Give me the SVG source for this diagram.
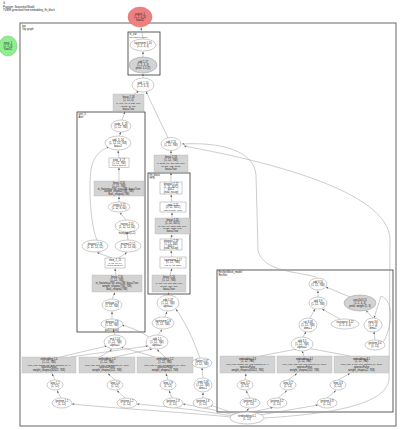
<svg xmlns="http://www.w3.org/2000/svg" width="400" height="430" viewBox="0 0 400 430">
<style>
text{font-family:"Liberation Sans",Arial,sans-serif;font-size:2.6px;fill:#222;text-anchor:middle}
.l{text-anchor:start}
.s{font-size:2.2px}
.cl{fill:none;stroke:#333;stroke-width:0.8}
.co{fill:none;stroke:#666;stroke-width:1}
.e{fill:#fff;stroke:#999;stroke-width:0.5}
.g{fill:#d3d3d3;stroke:#bbb;stroke-width:0.4}
.r{fill:#fff;stroke:#999;stroke-width:0.5}
.ed path{fill:none;stroke:#9a9a9a;stroke-width:0.5;marker-end:url(#a)}
</style>
<defs>
<marker id="a" viewBox="0 0 10 10" refX="10" refY="5" markerWidth="5" markerHeight="5" orient="auto"><path d="M0,1L10,5L0,9z" fill="#666"/></marker>
</defs>
<rect width="400" height="430" fill="#fff"/>
<text class="l" x="3" y="4">G</text>
<text class="l" x="3" y="7.5">Program: Sequential Model</text>
<text class="l" x="3" y="10.5">TVMIR generated from embedding_ffn_block</text>

<!-- clusters -->
<g id="cluster_top"><rect class="co" x="20" y="23" width="376" height="403"/><text class="l" x="22" y="26.5">top</text><text class="l" x="22" y="29.5">Top graph</text></g>
<g id="cluster_ln"><rect class="cl" x="128" y="32" width="32" height="43"/><text class="l" x="129.5" y="35">ln_out</text><text class="l s" x="129.5" y="37.5">LayerNorm output</text></g>
<g id="cluster_attn"><rect class="cl" x="77" y="112" width="68" height="220"/><text class="l" x="78.5" y="115">attn_0</text><text class="l" x="78.5" y="117.5">Attn</text></g>
<g id="cluster_ffn"><rect class="cl" x="148" y="173" width="42" height="121"/><text class="l" x="149.5" y="176">ffn_block</text><text class="l" x="149.5" y="178.5">FFN</text></g>
<g id="cluster_res"><rect class="cl" x="217" y="270" width="176" height="142"/><text class="l" x="218.5" y="273">ResNetBlock_model</text><text class="l" x="218.5" y="275.5">ResNet</text></g>

<!-- edges -->
<g class="ed">
<path d="M143,39 L141,27.5"/>
<path d="M143,57 L143,51.5"/>
<path d="M143,78 L143,73.5"/>
<path d="M134,94 L139,91"/>
<path d="M168,138 L146,91.5"/>
<path d="M122,120 L125,111.5"/>
<path d="M119,136 L121,132"/>
<path d="M119,158 L118,150.5"/>
<path d="M119,181 L119,167.5"/>
<path d="M119,202 L119,196.5"/>
<path d="M126,220 L120,212.5"/>
<path d="M97,240 C90,225 88,180 92,165 C95,155 102,149 109,147"/>
<path d="M128,240 L127,232"/>
<path d="M112,258 L97,252.5"/>
<path d="M118,258 L127,252.5"/>
<path d="M116,275 L115,268.5"/>
<path d="M112,299 L115,292.5"/>
<path d="M112,319 L112,311.5"/>
<path d="M115,335 L113,329.5"/>
<path d="M150,338 C140,330 125,326 122,325"/>
<path d="M171,155 L171,150.5"/>
<path d="M171,182 L171,172.5"/>
<path d="M172,202 L171,194.5"/>
<path d="M172,218 L172,212.5"/>
<path d="M171,239 L172,234.5"/>
<path d="M172,257 L171,250.5"/>
<path d="M170,275 L172,268.5"/>
<path d="M168,295 L169,292.5"/>
<path d="M165,317 L167,311.5"/>
<path d="M158,335 L162,329.5"/>
<path d="M200,358 C195,345 190,330 176,309"/>
<path d="M203,378 L202,367.5"/>
<path d="M203,398 L203,392.5"/>
<path d="M60,357 L107,346"/>
<path d="M100,357 L112,349.5"/>
<path d="M155,357 L121,347"/>
<path d="M70,357 L148,346"/>
<path d="M115,357 L152,349"/>
<path d="M165,357 L157,349.5"/>
<path d="M55,380 L52,373.5"/>
<path d="M115,380 L108,373.5"/>
<path d="M168,380 L166,373.5"/>
<path d="M61,398 L57,390.5"/>
<path d="M125,398 L117,390.5"/>
<path d="M172,398 L169,390.5"/>
<path d="M231,417 C180,412 110,408 72,404"/>
<path d="M232,416 C200,410 160,406 137,404"/>
<path d="M235,415 C215,410 195,406 183,404"/>
<path d="M236,414 L210,405"/>
<path d="M245,412 L249,408.5"/>
<path d="M252,412 L273,407.5"/>
<path d="M260,415 L318,405"/>
<path d="M264,418 C330,414 385,405 389,380 L390,240 C390,190 260,160 184,146"/>
<path d="M316,277 C300,272 262,272 258,250 L256,175 C254,150 220,142 182,144"/>
<path d="M318,297 L318,290.5"/>
<path d="M350,297 L326,287"/>
<path d="M310,318 L315,309"/>
<path d="M340,319 L322,309"/>
<path d="M303,337 L306,331.5"/>
<path d="M373,318 L366,310.5"/>
<path d="M375,340 L374,331.5"/>
<path d="M260,356 L297,349"/>
<path d="M304,356 L302,351"/>
<path d="M350,356 L307,348"/>
<path d="M245,380 L246,373.5"/>
<path d="M288,380 L297,373.5"/>
<path d="M338,380 L350,373.5"/>
<path d="M250,398 L246,390.5"/>
<path d="M278,398 L287,390.5"/>
<path d="M327,398 L336,390.5"/>
<path d="M383,343 C395,320 392,300 381,296 L374,318"/>
</g>

<!-- nodes -->
<g id="output_1"><ellipse cx="140" cy="17" rx="12" ry="10" fill="#f08080" stroke="#c66" stroke-width="0.5"/><text x="140" y="14.5">output_1</text><text x="140" y="17.5">(1, 2, 4, 4)</text><text x="140" y="20.5">float32</text></g>
<g id="input_1"><ellipse cx="8" cy="46" rx="9" ry="10" fill="#90ee90" stroke="#6b6" stroke-width="0.5"/><text x="8" y="43.5">input_1</text><text x="8" y="46.5">(1, 3, 4)</text><text x="8" y="49.5">float32</text></g>

<g id="layernorm"><ellipse class="e" cx="143" cy="45" rx="13" ry="6"/><text x="143" y="44">layernorm 1.10</text><text x="143" y="47">(1, 2, 4, 4)</text></g>
<g id="add_ln"><ellipse cx="143" cy="65" rx="14" ry="8" fill="#d3d3d3" stroke="#999" stroke-width="0.5"/><text x="143" y="62.5">add 1.17</text><text x="143" y="65.5">(1, 2, 4, 4)</text><text x="143" y="68.5">prelu: 1.0 (2)</text></g>
<g id="add_1"><ellipse class="e" cx="143" cy="85" rx="11" ry="7"/><text x="143" y="84">add_1.14</text><text x="143" y="87">(1, 2, 4, 4)</text></g>
<g id="linear_1"><rect class="g" x="113" y="94" width="31" height="17"/><text x="128.5" y="97.5">linear 1.18</text><text x="128.5" y="100.5">(1, 12, 4)</text><text class="s" x="128.5" y="103.5">in=768, out=3, bias=True</text><text class="s" x="128.5" y="106.5">weight=(3, 768)</text><text x="128.5" y="109.5">bias=True</text></g>

<g id="node_a1"><ellipse class="e" cx="121" cy="126" rx="10" ry="6"/><text x="121" y="125">node_3_18</text><text x="121" y="128">(1, 12, 768)</text></g>
<g id="node_a2"><ellipse class="e" cx="118" cy="143" rx="13" ry="7"/><text x="118" y="140.5">add_3_16</text><text x="118" y="143.5">(1, 12, 12, 768)</text><text x="118" y="146.5">bias=1</text></g>
<g id="node_a3"><rect class="r" x="109" y="158" width="20" height="9.5"/><text x="119" y="161">view_3_17</text><text x="119" y="163.5">(1, 12, 768)</text><text class="s" x="119" y="166">view(1,12,768)</text></g>
<g id="node_a4"><rect class="g" x="94" y="181" width="50" height="15"/><text x="119" y="184">linear 3.20</text><text x="119" y="186.8">(1, 12, 768)</text><text x="119" y="189.6">in_features=768, out=768, bias=True</text><text x="119" y="192.4">weight_shape=(768, 768)</text><text x="119" y="195">bias_shape=(768)</text></g>
<g id="node_a5"><ellipse class="e" cx="119" cy="207" rx="11" ry="5"/><text x="119" y="206">contig 3.15</text><text x="119" y="209">(1, 12, 8, 64)</text></g>
<g id="node_a6"><ellipse class="e" cx="127" cy="226" rx="12" ry="6"/><text x="127" y="225">transp 2.14</text><text x="127" y="228">(1, 12, 12, 64)</text><text x="127" y="233.5">transpose(1,2)</text></g>
<g id="node_a7"><ellipse class="e" cx="95" cy="246" rx="13" ry="6"/><text x="95" y="245">dropout 2.13</text><text x="95" y="248">(1, 12, 12, 12)</text></g>
<g id="node_a8"><ellipse class="e" cx="128" cy="246" rx="13" ry="6"/><text x="128" y="245">matmul 2.12</text><text x="128" y="248">(1, 12, 12, 64)</text></g>
<g id="node_a9"><rect class="r" x="105" y="258" width="20" height="10"/><text x="115" y="261">view_2_11</text><text class="s" x="115" y="263.5">(1, 12, 12, 64)</text><text class="s" x="115" y="266">view(1,12,12,64)</text></g>
<g id="node_a10"><rect class="g" x="92" y="275" width="50" height="17"/><text x="117" y="278.3">linear 2.10</text><text x="117" y="281.3">(1, 12, 768)</text><text x="117" y="284.3">in_features=768, out=768, bias=True</text><text x="117" y="287.3">weight_shape=(768, 768)</text><text x="117" y="290.3">bias_shape=(768)</text></g>
<g id="node_a11"><ellipse class="e" cx="112" cy="305" rx="10" ry="6"/><text x="112" y="304">reshape 2.9</text><text x="112" y="307">(1, 12, 768)</text></g>
<g id="node_a12"><ellipse class="e" cx="112" cy="324" rx="11" ry="5"/><text x="112" y="323">dropout 2.8</text><text x="112" y="326">(1, 12, 768)</text><text x="112" y="330.5">p=0.1 (eval)</text></g>

<g id="add_12"><ellipse class="e" cx="171" cy="144" rx="10" ry="6.5"/><text x="171" y="143">add 2.15</text><text x="171" y="146">(1, 12, 768)</text></g>
<g id="linear_2"><rect class="g" x="154" y="155" width="34" height="17"/><text x="171" y="158.3">linear 2.19</text><text x="171" y="161.3">(1, 12, 768)</text><text class="s" x="171" y="164.3">in=3072, out=768, bias=True</text><text class="s" x="171" y="167.3">weight=(768, 3072)</text><text x="171" y="170.3">bias=True</text></g>
<g id="node_f1"><rect class="r" x="160" y="182" width="22" height="12"/><text x="171" y="185">dropout 2.22</text><text x="171" y="187.5">(1, 12, 3072)</text><text x="171" y="190">p=0.1</text><text x="171" y="192.5">(eval, no-op)</text></g>
<g id="node_f2"><rect class="r" x="160" y="202" width="26" height="10"/><text x="173" y="205.5">gelu 2.21</text><text x="173" y="208">(1, 12, 3072)</text><text class="s" x="173" y="210.5">approximate=none</text></g>
<g id="node_f3"><rect class="g" x="155" y="218" width="35" height="16"/><text x="172.5" y="221.3">linear 2.20</text><text x="172.5" y="224">(1, 12, 3072)</text><text class="s" x="172.5" y="226.7">in=768, out=3072, bias=True</text><text class="s" x="172.5" y="229.4">weight=(3072, 768)</text><text x="172.5" y="232.1">bias=True</text></g>
<g id="node_f4"><rect class="r" x="160" y="239" width="22" height="11"/><text x="171" y="242">dropout 2.18</text><text x="171" y="244.5">(1, 12, 768)</text><text x="171" y="247">p=0.1</text><text x="171" y="249.3">(eval, no-op)</text></g>
<g id="node_f5"><rect class="r" x="160" y="257" width="26" height="11"/><text x="173" y="260.5">layernorm 2.17</text><text x="173" y="263">(1, 12, 768)</text><text class="s" x="173" y="265.5">eps=1e-12, affine</text></g>
<g id="node_f6"><rect class="g" x="152" y="275" width="34" height="17"/><text x="169" y="278.3">linear 2.16</text><text x="169" y="281.3">(1, 12, 768)</text><text class="s" x="169" y="284.3">in=768, out=768, bias=True</text><text class="s" x="169" y="287.3">weight=(768, 768)</text><text x="169" y="290.3">bias=True</text></g>
<g id="node_m1"><ellipse class="e" cx="168" cy="303" rx="11" ry="8"/><text x="168" y="300.5">add 1.07</text><text x="168" y="303.5">(1, 12, 768)</text><text x="168" y="306.5">alpha=1</text></g>
<g id="node_m2"><ellipse class="e" cx="163" cy="323" rx="11" ry="6"/><text x="163" y="322">layernorm 1.6</text><text x="163" y="325">(1, 12, 768)</text></g>
<g id="mul_110"><ellipse class="e" cx="115" cy="342" rx="11" ry="7"/><text x="115" y="339.5">mul 1.10</text><text x="115" y="342.5">(1, 12, 768)</text><text x="115" y="345.5">alpha=1</text></g>
<g id="mul_15"><ellipse class="e" cx="157" cy="342" rx="11" ry="7"/><text x="157" y="339.5">add 1.5</text><text x="157" y="342.5">(1, 12, 768)</text><text x="157" y="345.5">alpha=1</text></g>

<g id="emb_1"><rect class="g" x="22" y="357" width="54" height="16"/><text x="49" y="360.3">embedding 1.4</text><text x="49" y="363">(1, 12, 768)</text><text class="s" x="49" y="365.7">num_emb=30522, dim=768, padding_idx=0</text><text x="49" y="368.4">sparse=False</text><text x="49" y="371.1">weight_shape=(30522, 768)</text></g>
<g id="emb_2"><rect class="g" x="79" y="357" width="56" height="16"/><text x="107" y="360.3">embedding 1.3</text><text x="107" y="363">(1, 12, 768)</text><text class="s" x="107" y="365.7">num_emb=512, dim=768, padding_idx=None</text><text x="107" y="368.4">sparse=False</text><text x="107" y="371.1">weight_shape=(512, 768)</text></g>
<g id="emb_3"><rect class="g" x="137" y="357" width="56" height="16"/><text x="165" y="360.3">embedding 1.2</text><text x="165" y="363">(1, 12, 768)</text><text class="s" x="165" y="365.7">num_emb=2, dim=768, padding_idx=None</text><text x="165" y="368.4">sparse=False</text><text x="165" y="371.1">weight_shape=(2, 768)</text></g>
<g id="ids_1"><ellipse class="e" cx="55" cy="385" rx="8" ry="5"/><text x="55" y="384">long 1.1</text><text x="55" y="387">(1, 12)</text></g>
<g id="ids_2"><ellipse class="e" cx="115" cy="385" rx="8" ry="5"/><text x="115" y="384">long 1.0</text><text x="115" y="387">(1, 12)</text></g>
<g id="ids_3"><ellipse class="e" cx="168" cy="385" rx="8" ry="5"/><text x="168" y="384">long 1.9</text><text x="168" y="387">(1, 12)</text></g>
<g id="part_1"><ellipse class="e" cx="62" cy="403" rx="10" ry="5"/><text x="62" y="402">getitem 1.1</text><text x="62" y="405">(1, 12)</text></g>
<g id="part_2"><ellipse class="e" cx="127" cy="403" rx="10" ry="5"/><text x="127" y="402">getitem 1.2</text><text x="127" y="405">(1, 12)</text></g>
<g id="part_3"><ellipse class="e" cx="173" cy="403" rx="10" ry="5"/><text x="173" y="402">getitem 1.3</text><text x="173" y="405">(1, 12)</text></g>

<g id="resets"><ellipse class="e" cx="202" cy="363" rx="10" ry="5"/><text x="202" y="362">flatten 1.07</text><text x="202" y="365">(1, 12, 768)</text></g>
<g id="node_r2"><ellipse class="e" cx="203" cy="385" rx="9" ry="7"/><text x="203" y="382.5">view 1.08</text><text x="203" y="385.5">(1, 12, 768)</text><text x="203" y="388.5">dim=-1</text></g>
<g id="node_r3"><ellipse class="e" cx="203" cy="403" rx="10" ry="5"/><text x="203" y="402">getitem 1.6</text><text x="203" y="405">(1, 12)</text></g>

<g id="add_3"><ellipse class="e" cx="318" cy="284" rx="9" ry="6"/><text x="318" y="283">add 3.10</text><text x="318" y="286">(1, 12, 768)</text></g>
<g id="add_3b"><ellipse class="e" cx="318" cy="303" rx="9" ry="6"/><text x="318" y="302">add 3.9</text><text x="318" y="305">(1, 12, 768)</text></g>
<g id="gres"><ellipse cx="360" cy="303" rx="16" ry="8" fill="#d3d3d3" stroke="#999" stroke-width="0.5"/><text x="360" y="300.5">conv2d 3.11</text><text x="360" y="303.5">(1, 2, 4, 4)</text><text x="360" y="306.5">prelu: weight (1, 3)</text></g>
<g id="r_n1"><ellipse class="e" cx="308" cy="325" rx="9" ry="7"/><text x="308" y="322.5">cat 3.08</text><text x="308" y="325.5">(1, 12, 768)</text><text x="308" y="328.5">dim=-1</text></g>
<g id="r_n2"><ellipse class="e" cx="345" cy="324" rx="14" ry="5"/><text x="345" y="323">transpose 3.12</text><text x="345" y="326">(1, 2, 4, 4)</text></g>
<g id="r_n3"><ellipse class="e" cx="373" cy="325" rx="9" ry="7"/><text x="373" y="322.5">view 3.6</text><text x="373" y="325.5">(1, 2, 4)</text><text x="373" y="328.5">dim=1</text></g>
<g id="mul_3"><ellipse class="e" cx="302" cy="344" rx="11" ry="7"/><text x="302" y="341.5">add 3.5</text><text x="302" y="344.5">(1, 12, 768)</text><text x="302" y="347.5">alpha=1</text></g>
<g id="r_n4"><ellipse class="e" cx="375" cy="345" rx="10" ry="5"/><text x="375" y="344">getitem 3.4</text><text x="375" y="347">(1, 12)</text></g>
<g id="emb_4"><rect class="g" x="220" y="356" width="55" height="17"/><text x="247.5" y="359.5">embedding 3.3</text><text x="247.5" y="362.3">(1, 12, 768)</text><text class="s" x="247.5" y="365.1">num_emb=30522, dim=768, padding_idx=0</text><text x="247.5" y="367.9">sparse=False</text><text x="247.5" y="370.7">weight_shape=(30522, 768)</text></g>
<g id="emb_5"><rect class="g" x="277" y="356" width="55" height="17"/><text x="304.5" y="359.5">embedding 3.2</text><text x="304.5" y="362.3">(1, 12, 768)</text><text class="s" x="304.5" y="365.1">num_emb=512, dim=768, padding_idx=None</text><text x="304.5" y="367.9">sparse=False</text><text x="304.5" y="370.7">weight_shape=(512, 768)</text></g>
<g id="emb_6"><rect class="g" x="334" y="356" width="55" height="17"/><text x="361.5" y="359.5">embedding 3.1</text><text x="361.5" y="362.3">(1, 12, 768)</text><text class="s" x="361.5" y="365.1">num_emb=2, dim=768, padding_idx=None</text><text x="361.5" y="367.9">sparse=False</text><text x="361.5" y="370.7">weight_shape=(2, 768)</text></g>
<g id="ids_4"><ellipse class="e" cx="245" cy="385" rx="8" ry="5"/><text x="245" y="384">long 3.1</text><text x="245" y="387">(1, 12)</text></g>
<g id="ids_5"><ellipse class="e" cx="288" cy="385" rx="8" ry="5"/><text x="288" y="384">long 3.2</text><text x="288" y="387">(1, 12)</text></g>
<g id="ids_6"><ellipse class="e" cx="338" cy="385" rx="8" ry="5"/><text x="338" y="384">long 3.3</text><text x="338" y="387">(1, 12)</text></g>
<g id="part_4"><ellipse class="e" cx="250" cy="403" rx="10" ry="5"/><text x="250" y="402">getitem 3.1</text><text x="250" y="405">(1, 12)</text></g>
<g id="part_5"><ellipse class="e" cx="277" cy="403" rx="10" ry="5"/><text x="277" y="402">getitem 3.2</text><text x="277" y="405">(1, 12)</text></g>
<g id="part_6"><ellipse class="e" cx="327" cy="403" rx="10" ry="5"/><text x="327" y="402">getitem 3.3</text><text x="327" y="405">(1, 12)</text></g>
<g id="tembedding"><ellipse class="e" cx="247" cy="418" rx="17" ry="6"/><text x="247" y="417">tembedding 0.1</text><text x="247" y="420">(1, 12)</text></g>
</svg>
